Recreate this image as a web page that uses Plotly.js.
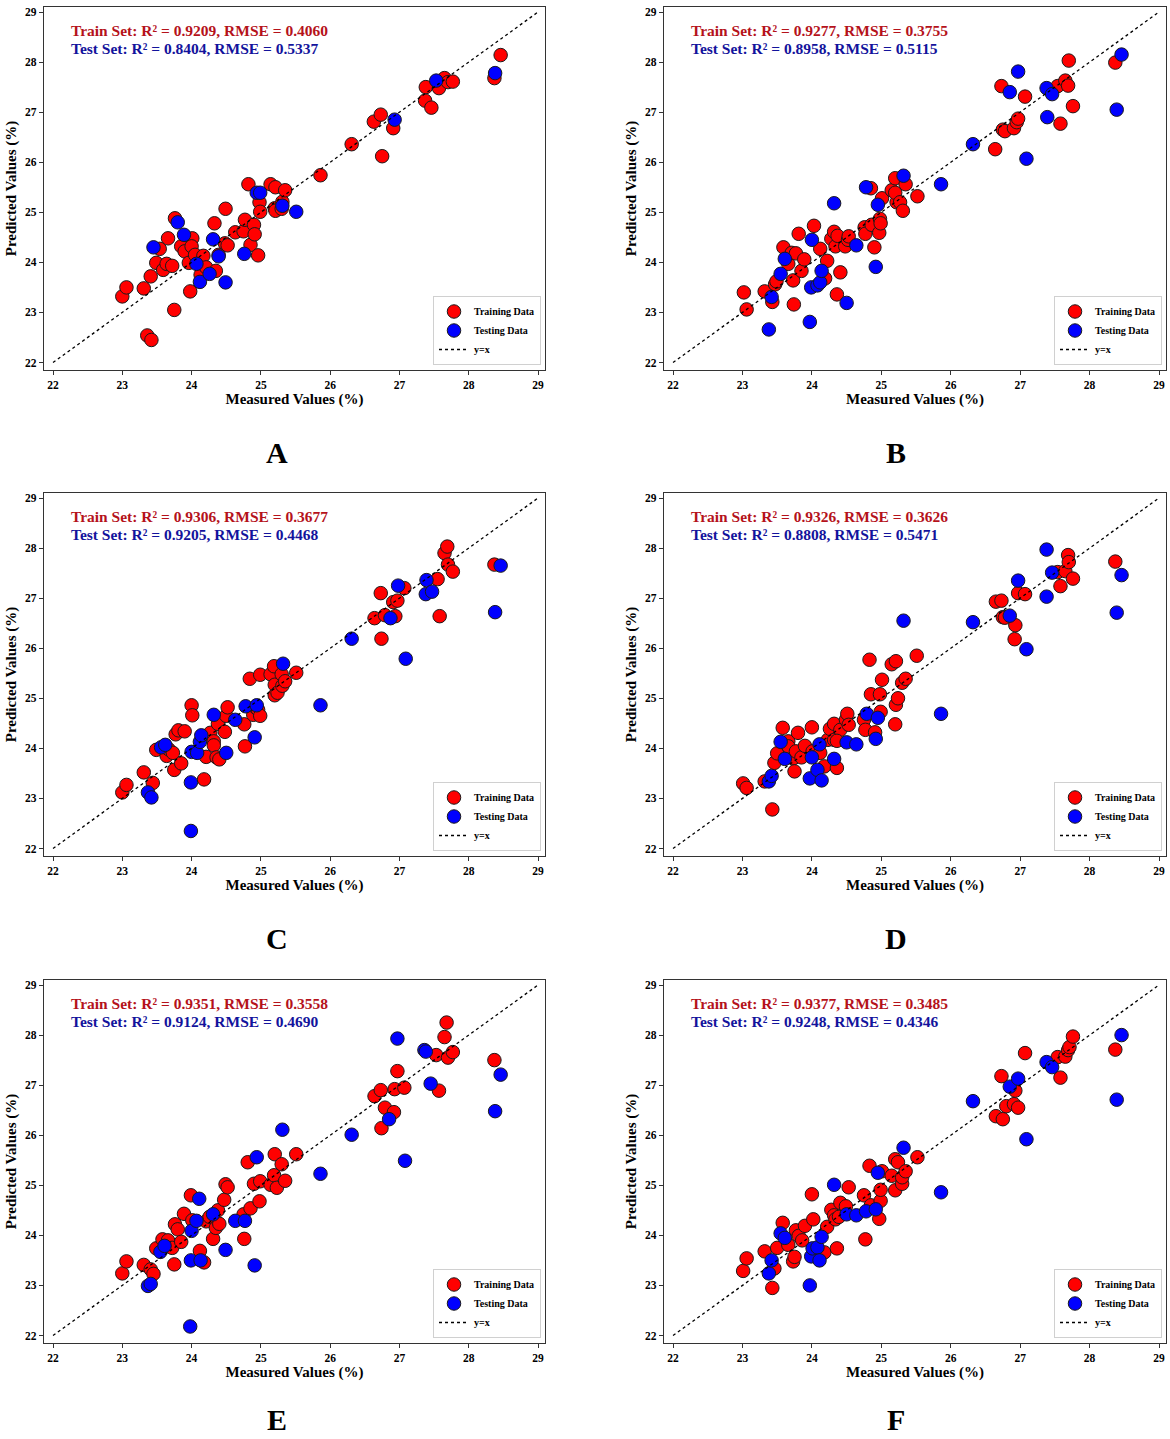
<!DOCTYPE html>
<html>
<head>
<meta charset="utf-8">
<script src="https://cdn.plot.ly/plotly-3.0.1.min.js"></script>
<style>
  html, body { margin: 0; padding: 0; background: #fff; }
  #plot { width: 1170px; height: 1439px; }
</style>
</head>
<body>
<div id="plot"></div>
<script>
// values (measured vs predicted, %)
var panelLabels = ['A', 'B', 'C', 'D', 'E', 'F'];
var trainR2   = ['0.9209', '0.9277', '0.9306', '0.9326', '0.9351', '0.9377'];
var trainRMSE = ['0.4060', '0.3755', '0.3677', '0.3626', '0.3558', '0.3485'];
var testR2    = ['0.8404', '0.8958', '0.9205', '0.8808', '0.9124', '0.9248'];
var testRMSE  = ['0.5337', '0.5115', '0.4468', '0.5471', '0.4690', '0.4346'];
var tickVals = [22, 23, 24, 25, 26, 27, 28, 29];
var tickText = ['22', '23', '24', '25', '26', '27', '28', '29'];

var trainX_A = [23.00,23.06,23.31,23.41,23.36,23.42,23.54,23.49,23.59,23.66,23.64,23.72,23.75,23.76,23.85,23.90,23.96,23.98,24.01,24.00,24.05,24.13,24.17,24.21,24.33,24.35,24.39,24.48,24.52,24.49,24.63,24.75,24.77,24.82,24.85,24.90,24.91,24.96,24.98,24.99,25.14,25.21,25.20,25.21,25.31,25.30,25.35,25.86,26.31,26.63,26.73,26.75,26.91,27.38,27.37,27.46,27.57,27.65,27.70,27.77,28.37,28.46];
var trainY_A = [23.32,23.50,23.48,23.72,22.54,22.45,24.27,23.99,23.85,24.48,23.97,23.93,23.05,24.88,24.32,24.22,23.99,23.42,24.48,24.32,24.15,23.75,24.13,23.90,24.78,23.83,24.15,24.38,24.34,25.07,24.60,24.62,24.85,25.56,24.35,24.75,24.56,24.14,25.20,25.01,25.56,25.50,25.08,25.03,25.21,25.07,25.44,25.74,26.36,26.81,26.95,26.12,26.68,27.50,27.23,27.09,27.48,27.68,27.60,27.61,27.68,28.14];
var testX_A = [23.45,23.80,23.89,24.07,24.12,24.26,24.31,24.39,24.49,24.76,24.94,24.99,25.31,25.51,26.93,27.53,28.38];
var testY_A = [24.30,24.80,24.55,23.97,23.61,23.77,24.46,24.12,23.60,24.17,25.39,25.39,25.13,25.01,26.85,27.63,27.78];

var trainX_B = [23.02,23.06,23.32,23.43,23.47,23.49,23.59,23.66,23.71,23.73,23.74,23.77,23.81,23.85,23.89,24.03,24.12,24.19,24.22,24.28,24.32,24.34,24.37,24.36,24.41,24.48,24.52,24.53,24.76,24.77,24.85,24.86,24.90,24.97,24.98,24.99,25.01,25.15,25.20,25.22,25.20,25.27,25.31,25.35,25.52,26.64,26.73,26.75,26.78,26.91,26.95,26.97,27.07,27.54,27.58,27.65,27.69,27.70,27.76,28.37];
var trainY_B = [23.40,23.06,23.42,23.21,23.56,23.62,24.30,23.97,24.19,23.64,23.16,24.18,24.57,23.83,24.06,24.73,24.27,23.68,24.03,24.47,24.61,24.32,24.53,23.36,23.80,24.32,24.45,24.52,24.70,24.57,25.48,24.75,24.30,24.59,24.87,24.78,25.28,25.44,25.68,25.20,25.39,25.20,25.03,25.56,25.32,26.26,27.52,26.65,26.62,26.68,26.80,26.87,27.31,27.52,26.77,27.63,27.53,28.03,27.12,27.99];
var testX_B = [23.38,23.42,23.55,23.61,23.97,23.99,24.00,24.08,24.12,24.14,24.32,24.50,24.64,24.78,24.92,24.95,25.32,25.86,26.32,26.85,26.97,27.09,27.38,27.39,27.46,28.39,28.46];
var testY_B = [22.66,23.31,23.77,24.07,22.81,23.50,24.45,23.54,23.60,23.83,25.18,23.19,24.34,25.50,23.91,25.15,25.73,25.56,26.36,27.40,27.81,26.07,27.48,26.90,27.36,27.05,28.15];

var trainX_C = [23.00,23.06,23.31,23.44,23.49,23.64,23.67,23.73,23.75,23.77,23.81,23.85,23.90,24.00,24.01,24.18,24.21,24.27,24.32,24.32,24.36,24.38,24.40,24.48,24.50,24.52,24.76,24.77,24.84,24.89,24.92,24.96,24.99,24.99,25.14,25.19,25.20,25.20,25.24,25.30,25.31,25.35,25.51,26.64,26.73,26.74,26.79,26.91,26.94,26.97,27.07,27.55,27.58,27.65,27.69,27.70,27.77,28.37];
var trainY_C = [23.12,23.27,23.52,23.31,23.97,23.85,23.98,23.91,23.57,24.28,24.36,23.70,24.34,24.86,24.66,23.38,23.83,24.31,24.14,24.06,23.82,24.49,23.78,24.33,24.65,24.82,24.48,24.04,25.39,24.67,24.82,24.77,24.65,25.47,25.48,25.64,25.06,25.27,25.11,25.48,25.25,25.34,25.51,26.60,27.10,26.19,26.66,26.92,26.64,26.95,27.20,27.38,26.64,27.90,28.03,27.67,27.53,27.67];
var testX_C = [23.37,23.42,23.56,23.62,23.99,23.99,24.00,24.08,24.12,24.14,24.32,24.50,24.63,24.78,24.91,24.94,25.32,25.86,26.31,26.87,26.98,27.09,27.38,27.39,27.47,28.38,28.46];
var testY_C = [23.12,23.02,24.02,24.07,23.32,22.35,23.93,23.91,24.13,24.26,24.67,23.91,24.57,24.84,24.22,24.86,25.69,24.86,26.19,26.60,27.25,25.79,27.08,27.36,27.13,26.72,27.65];

var trainX_D = [23.01,23.06,23.32,23.43,23.46,23.50,23.58,23.66,23.66,23.73,23.75,23.77,23.80,23.85,23.90,24.00,24.01,24.12,24.18,24.23,24.26,24.32,24.32,24.36,24.41,24.36,24.49,24.51,24.53,24.75,24.77,24.83,24.85,24.91,24.98,24.99,25.01,25.15,25.21,25.20,25.21,25.24,25.30,25.35,25.51,26.65,26.73,26.75,26.78,26.92,26.93,26.97,27.07,27.54,27.58,27.65,27.69,27.70,27.76,28.37];
var trainY_D = [23.30,23.21,23.34,22.78,23.71,23.90,24.41,24.14,24.04,23.80,23.54,23.94,24.31,23.82,24.05,24.42,23.94,23.91,23.64,24.17,24.39,24.49,24.17,23.61,24.37,24.15,24.57,24.69,24.47,24.57,24.37,25.77,25.08,24.32,25.08,24.73,25.37,25.68,25.74,24.48,24.87,25.00,25.31,25.39,25.85,26.93,26.95,26.62,26.61,26.18,26.46,27.10,27.08,27.52,27.24,27.54,27.86,27.72,27.39,27.73];
var testX_D = [23.38,23.42,23.55,23.61,23.97,24.00,24.08,24.11,24.14,24.32,24.50,24.64,24.79,24.92,24.95,25.32,25.86,26.32,26.85,26.97,27.09,27.38,27.38,27.46,28.39,28.46];
var testY_D = [23.34,23.45,24.13,23.79,23.40,23.82,23.57,24.08,23.36,23.79,24.12,24.08,24.69,24.19,24.61,26.55,24.69,26.52,26.65,27.35,25.98,27.97,27.03,27.51,26.71,27.46];

var trainX_E = [23.00,23.06,23.31,23.41,23.45,23.49,23.58,23.66,23.72,23.75,23.76,23.80,23.85,23.89,23.99,24.01,24.12,24.18,24.21,24.26,24.31,24.35,24.38,24.40,24.47,24.49,24.52,24.75,24.76,24.81,24.85,24.90,24.98,24.99,25.14,25.20,25.19,25.23,25.30,25.35,25.51,26.64,26.73,26.74,26.79,26.92,26.93,26.97,27.07,27.53,27.57,27.65,27.68,27.70,27.77,28.37];
var trainY_E = [23.24,23.48,23.41,23.32,23.23,23.74,23.92,23.90,23.75,23.42,24.22,24.12,23.87,24.43,24.80,24.30,23.69,23.46,24.28,24.37,23.93,24.15,24.50,24.23,24.71,25.02,24.96,24.42,23.93,25.46,24.54,25.03,24.68,25.08,25.01,25.62,25.20,24.95,25.42,25.09,25.62,26.78,26.90,26.14,26.55,26.46,26.92,27.28,26.95,27.60,26.89,27.96,28.25,27.55,27.66,27.50];
var testX_E = [23.37,23.41,23.55,23.61,23.98,23.99,24.00,24.07,24.11,24.13,24.31,24.49,24.63,24.77,24.91,24.94,25.31,25.86,26.31,26.85,26.97,27.08,27.36,27.38,27.45,28.38,28.46];
var testY_E = [22.99,23.03,23.67,23.79,22.18,23.50,24.09,24.29,24.73,23.50,24.42,23.71,24.29,24.29,23.40,25.56,26.11,25.23,26.01,26.32,27.93,25.49,27.70,27.67,27.03,26.48,27.21];

var trainX_F = [23.01,23.06,23.32,23.43,23.46,23.50,23.58,23.66,23.73,23.75,23.77,23.81,23.86,23.90,24.00,24.02,24.18,24.22,24.28,24.32,24.34,24.36,24.39,24.41,24.49,24.53,24.75,24.77,24.83,24.85,24.97,24.99,24.99,25.01,25.15,25.20,25.20,25.24,25.30,25.30,25.35,25.52,26.65,26.73,26.75,26.80,26.91,26.93,26.97,27.07,27.54,27.58,27.65,27.69,27.71,27.76,28.37];
var trainY_F = [23.29,23.54,23.68,22.95,23.34,23.75,24.25,23.81,23.48,23.57,24.10,23.99,23.90,24.19,24.82,24.32,23.66,24.17,24.51,24.40,24.32,23.74,24.37,24.65,24.58,24.96,24.80,23.92,25.39,24.60,24.33,24.69,24.91,25.28,25.19,25.52,24.90,25.46,25.03,25.16,25.28,25.56,26.38,27.18,26.32,26.58,26.62,26.89,26.55,27.64,27.56,27.15,27.57,27.70,27.76,27.97,27.71];
var testX_F = [23.38,23.42,23.55,23.61,23.97,23.99,24.01,24.08,24.11,24.14,24.32,24.50,24.64,24.78,24.92,24.95,25.32,25.86,26.32,26.85,26.97,27.09,27.38,27.46,28.39,28.46];
var testY_F = [23.24,23.50,24.04,23.95,23.00,23.58,23.74,23.76,23.50,23.97,25.01,24.42,24.40,24.48,24.52,25.25,25.75,24.86,26.68,26.97,27.13,25.92,27.46,27.36,26.71,28.00];

var identityLine = [22, 29];

var trainXs = [trainX_A, trainX_B, trainX_C, trainX_D, trainX_E, trainX_F];
var trainYs = [trainY_A, trainY_B, trainY_C, trainY_D, trainY_E, trainY_F];
var testXs  = [testX_A, testX_B, testX_C, testX_D, testX_E, testX_F];
var testYs  = [testY_A, testY_B, testY_C, testY_D, testY_E, testY_F];

// panel frames in pixels of the 1170x1439 figure
var W = 1170, H = 1439;
var colLeft  = [44, 664];
var colRight = [545, 1166];
var rowTop    = [7, 493, 980];
var rowBottom = [370, 856, 1343];
var letterY   = [452, 938, 1419];

var serif = 'Liberation Serif, Times New Roman, serif';
var trainColor = '#ff0000';
var testColor = '#0000ff';

var data = [];
var layout = {
  width: W,
  height: H,
  margin: {l: 0, r: 0, t: 0, b: 0},
  paper_bgcolor: '#fff',
  plot_bgcolor: '#fff',
  font: {family: serif, color: '#000'},
  annotations: []
};

for (var i = 0; i < 6; i++) {
  var col = i % 2;
  var row = Math.floor(i / 2);
  var sfx = i === 0 ? '' : String(i + 1);
  var xa = 'x' + sfx, ya = 'y' + sfx;
  var leg = 'legend' + sfx;

  var markerLine = {color: '#1a1a1a', width: 1};

  data.push({
    type: 'scatter', mode: 'markers', name: '<b>Training Data</b>',
    x: trainXs[i], y: trainYs[i], xaxis: xa, yaxis: ya, legend: leg,
    marker: {color: trainColor, size: 13.5, line: markerLine}
  });
  data.push({
    type: 'scatter', mode: 'markers', name: '<b>Testing Data</b>',
    x: testXs[i], y: testYs[i], xaxis: xa, yaxis: ya, legend: leg,
    marker: {color: testColor, size: 13.5, line: markerLine}
  });
  data.push({
    type: 'scatter', mode: 'lines', name: '<b>y=x</b>',
    x: identityLine, y: identityLine, xaxis: xa, yaxis: ya, legend: leg,
    line: {color: '#000', width: 1.3, dash: 'dot'}
  });

  var axCommon = {
    tickmode: 'array',
    tickvals: tickVals,
    ticktext: tickText.map(function(t) { return '<b>' + t + '</b>'; }),
    ticks: 'outside', ticklen: 4, tickwidth: 1, tickcolor: '#333',
    showline: true, linecolor: '#333', linewidth: 1.2, mirror: true,
    showgrid: false, zeroline: false,
    tickfont: {family: serif, size: 11.5, color: '#000'}
  };

  layout['xaxis' + sfx] = Object.assign({}, axCommon, {
    domain: [colLeft[col] / W, colRight[col] / W],
    range: [21.87, 29.1],
    anchor: ya,
    title: {text: '<b>Measured Values (%)</b>', standoff: 3,
            font: {family: serif, size: 15, color: '#000'}}
  });
  layout['yaxis' + sfx] = Object.assign({}, axCommon, {
    domain: [1 - rowBottom[row] / H, 1 - rowTop[row] / H],
    range: [21.85, 29.1],
    anchor: xa,
    title: {text: '<b>Predicted Values (%)</b>', standoff: 4,
            font: {family: serif, size: 15, color: '#000'}}
  });

  layout[leg] = {
    x: (colRight[col] - 4) / W, y: 1 - (rowBottom[row] - 5) / H,
    xanchor: 'right', yanchor: 'bottom',
    bgcolor: '#fff', bordercolor: '#d0d0d0', borderwidth: 1,
    font: {family: serif, size: 10, color: '#000'},
    itemwidth: 30, tracegroupgap: 0
  };

  layout.annotations.push({
    xref: xa + ' domain', yref: ya + ' domain', x: 0.05, y: 0.935,
    xanchor: 'left', yanchor: 'middle', showarrow: false,
    text: '<b>Train Set: R² = ' + trainR2[i] + ', RMSE = ' + trainRMSE[i] + '</b>',
    font: {family: serif, size: 15.5, color: '#b5121b'}
  });
  layout.annotations.push({
    xref: xa + ' domain', yref: ya + ' domain', x: 0.05, y: 0.885,
    xanchor: 'left', yanchor: 'middle', showarrow: false,
    text: '<b>Test Set: R² = ' + testR2[i] + ', RMSE = ' + testRMSE[i] + '</b>',
    font: {family: serif, size: 15.5, color: '#13139c'}
  });
  layout.annotations.push({
    xref: 'paper', yref: 'paper',
    x: (col === 0 ? 277 : 896) / W, y: 1 - letterY[row] / H,
    xanchor: 'center', yanchor: 'middle', showarrow: false,
    text: '<b>' + panelLabels[i] + '</b>',
    font: {family: serif, size: 30, color: '#000'}
  });
}

Plotly.newPlot('plot', data, layout, {displayModeBar: false, staticPlot: true});
</script>
</body>
</html>
